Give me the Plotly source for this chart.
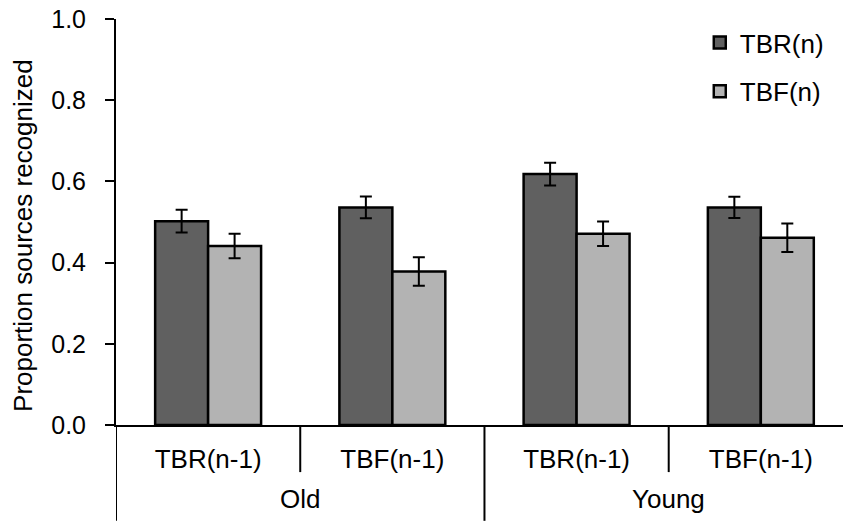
import plotly.graph_objects as go

groups = ["Old", "Old", "Young", "Young"]
conditions = ["TBR(n-1)", "TBF(n-1)", "TBR(n-1)", "TBF(n-1)"]
series_names = ["TBR(n)", "TBF(n)"]
tbr_values = [0.502, 0.536, 0.618, 0.536]
tbr_errors = [0.028, 0.027, 0.028, 0.026]
tbf_values = [0.441, 0.378, 0.471, 0.461]
tbf_errors = [0.030, 0.035, 0.030, 0.035]
y_ticks = [0.0, 0.2, 0.4, 0.6, 0.8, 1.0]
y_title = "Proportion sources recognized"

FONT = "Liberation Sans, Arial, sans-serif"
xpos = list(range(len(conditions)))

fig = go.Figure()
for name, vals, errs, color, grp in [
    (series_names[0], tbr_values, tbr_errors, "#606060", "a"),
    (series_names[1], tbf_values, tbf_errors, "#b3b3b3", "b"),
]:
    fig.add_trace(go.Bar(
        x=xpos, y=vals, name=name, legendgroup=grp,
        marker=dict(color=color, line=dict(color="black", width=2.5)),
        error_y=dict(type="data", array=errs, visible=True,
                     color="black", thickness=2, width=6),
    ))

# inner dividers (between conditions within a group) and outer dividers (between groups)
inner_bottom = -0.116
outer_bottom = -0.236
for i in range(len(conditions) + 1):
    bx = i - 0.5
    if i == 0 or i == len(conditions) or groups[i] != groups[i - 1]:
        yb = outer_bottom
    else:
        yb = inner_bottom
    fig.add_shape(type="line", xref="x", yref="paper", x0=bx, x1=bx, y0=0, y1=yb,
                  line=dict(color="black", width=2))

# group labels
runs = []
for i, g in enumerate(groups):
    if runs and runs[-1][0] == g:
        runs[-1][2] = i
    else:
        runs.append([g, i, i])
for g, a, b in runs:
    fig.add_annotation(x=(a + b) / 2, y=-0.182, xref="x", yref="paper",
                       text=g, showarrow=False, yanchor="middle",
                       font=dict(size=26, family=FONT, color="black"))

# y-axis title
fig.add_annotation(x=-0.128, y=0.468, xref="paper", yref="paper",
                   text=y_title, textangle=-90, showarrow=False,
                   xanchor="center", yanchor="middle",
                   font=dict(size=26, family=FONT, color="black"))

fig.update_layout(
    width=843, height=523,
    margin=dict(l=116, r=0, t=19, b=98),
    paper_bgcolor="white", plot_bgcolor="white",
    font=dict(family=FONT, size=26, color="black"),
    barmode="group", bargap=0.425, bargroupgap=0,
    showlegend=True,
    legend=dict(x=0.803, y=1.0, xanchor="left", yanchor="top",
                tracegroupgap=12, font=dict(size=26),
                bgcolor="rgba(0,0,0,0)"),
)
fig.update_xaxes(
    range=[-0.5, 3.446], tickvals=xpos, ticktext=conditions,
    showline=True, linecolor="black", linewidth=2,
    ticks="", ticklabelstandoff=10,
    showgrid=False, zeroline=False,
    tickfont=dict(size=26),
)
fig.update_yaxes(
    range=[0, 1], tickvals=y_ticks, tickformat=".1f",
    showline=True, linecolor="black", linewidth=2,
    ticks="outside", ticklen=9, tickwidth=2, tickcolor="black",
    ticklabelstandoff=14,
    showgrid=False, zeroline=False,
    tickfont=dict(size=25),
)

fig.write_html("out.html")
